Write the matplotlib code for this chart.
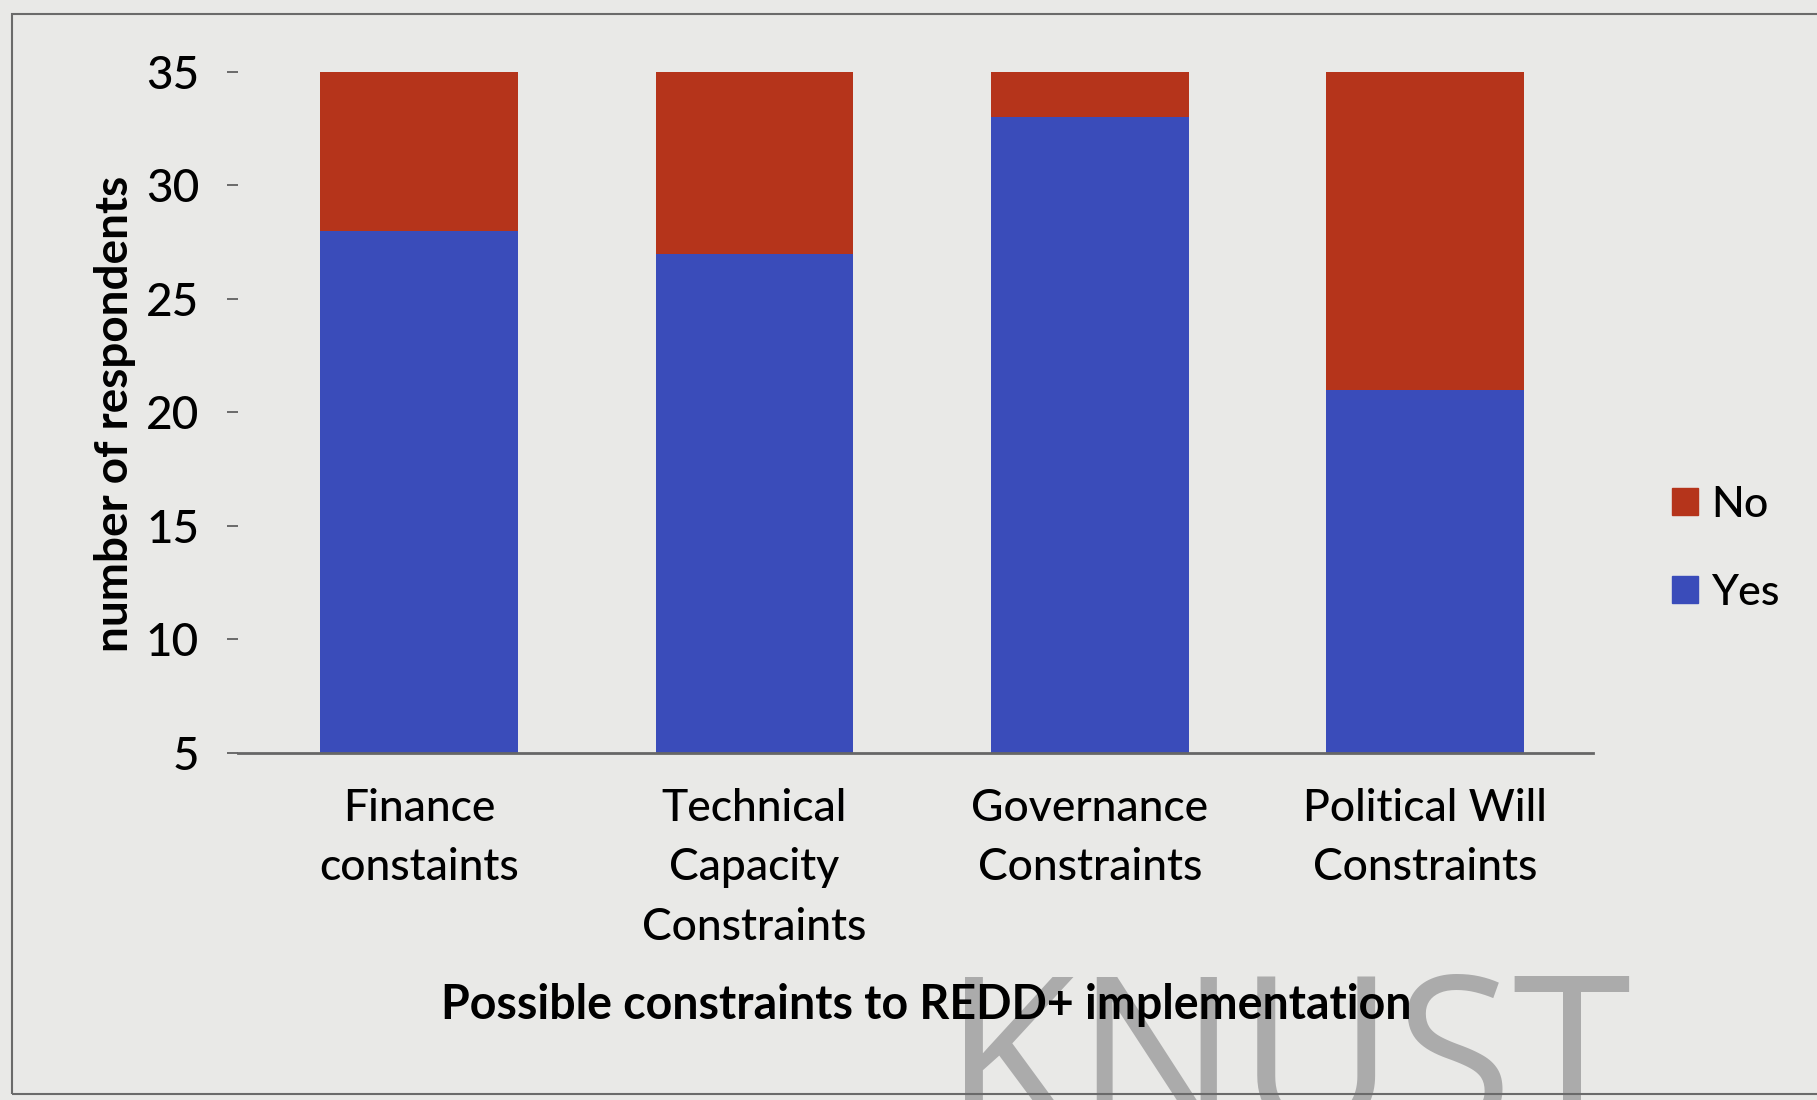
import numpy as np
import matplotlib
matplotlib.use("Agg")
import matplotlib.pyplot as plt
import matplotlib.patches as mpatches

# data
categories = ["Finance\nconstaints", "Technical\nCapacity\nConstraints",
              "Governance\nConstraints", "Political Will\nConstraints"]
yes_counts = [28, 27, 33, 21]
no_counts = [7, 8, 2, 14]
y_ticks = [5, 10, 15, 20, 25, 30, 35]

blue = "#3a4cba"
red = "#b5341b"
bg = "#e9e9e7"

plt.rcParams["font.family"] = ["Lato", "DejaVu Sans"]

fig = plt.figure(figsize=(18.17, 11), dpi=100)
fig.patch.set_facecolor(bg)

# outer frame of the scanned figure
frame = mpatches.Rectangle((12 / 1817, 6 / 1100), 1.2, 1 - 20 / 1100,
                           transform=fig.transFigure, fill=False,
                           edgecolor="#6a6a6a", linewidth=1.5)
fig.patches.append(frame)

# watermark of the scanned page (sits behind the chart)
fig.text(0.5195, -0.027, "KNUST", fontsize=155, color="#ababab",
         family="Open Sans", ha="left", va="baseline", zorder=-1)

ax = fig.add_axes([0.131, 0.3155, 0.7457, 0.6397])
ax.set_facecolor(bg)
ax.patch.set_alpha(0)

x = np.arange(len(categories))
ax.bar(x, yes_counts, width=0.59, color=blue, label="Yes")
ax.bar(x, no_counts, width=0.59, bottom=yes_counts, color=red, label="No")

ax.set_xlim(-0.54, 3.5)
ax.set_ylim(5, 36)
ax.set_yticks(y_ticks)
ax.set_yticklabels([str(t) for t in y_ticks], fontsize=33, fontweight="medium")
ax.set_xticks(x)
ax.set_xticklabels(categories, fontsize=32, linespacing=1.56, va="top",
                   fontweight="medium")
ax.tick_params(axis="x", length=0, pad=25)
ax.tick_params(axis="y", length=8, width=1.2, color="#555555", pad=20)

for side in ["top", "right", "left"]:
    ax.spines[side].set_visible(False)
ax.spines["bottom"].set_color("#666666")
ax.spines["bottom"].set_linewidth(2)

ax.set_ylabel("number of respondents", fontsize=33, fontweight="bold")
ax.yaxis.set_label_coords(-0.0756, 0.482)
ax.set_xlabel("Possible constraints to REDD+ implementation", fontsize=33.5,
              fontweight="bold")
ax.xaxis.set_label_coords(0.508, -0.327)

no_patch = mpatches.Patch(color=red, label="No")
yes_patch = mpatches.Patch(color=blue, label="Yes")
fig.legend(handles=[no_patch, yes_patch], loc="center left",
           bbox_to_anchor=(0.899, 0.501), frameon=False,
           handlelength=0.6, handleheight=0.6, handletextpad=0.3,
           labelspacing=1.16, prop={"weight": "medium", "size": 31})

fig.savefig("out.png", dpi=100, facecolor=bg)
